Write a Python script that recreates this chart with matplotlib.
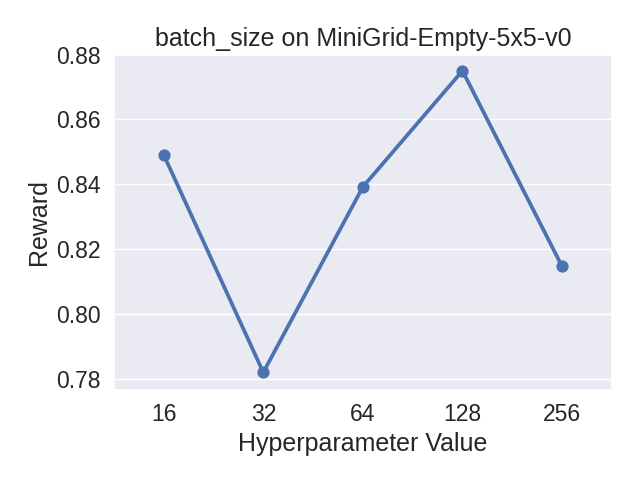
import pandas as pd
import matplotlib
matplotlib.use("Agg")
import matplotlib.pyplot as plt
import seaborn as sns

# hyperparameter sweep results
batch_sizes = ["16", "32", "64", "128", "256"]
rewards = [0.8491, 0.7820, 0.8392, 0.8750, 0.8147]

sns.set_theme(style="darkgrid", font_scale=1.5)
plt.rcParams['font.family'] = ['Liberation Sans', 'DejaVu Sans']

df = pd.DataFrame({"value": batch_sizes, "reward": rewards})

fig, ax = plt.subplots(figsize=(6.4, 4.8), dpi=100)
sns.pointplot(data=df, x="value", y="reward", ax=ax, color="#4c72b0")
ax.set_ylim(0.7765, 0.8801)
ax.set_title("batch_size on MiniGrid-Empty-5x5-v0")
ax.set_xlabel("Hyperparameter Value")
ax.set_ylabel("Reward")
fig.subplots_adjust(left=0.178, right=0.956, top=0.887, bottom=0.187)
plt.savefig("out.png")
